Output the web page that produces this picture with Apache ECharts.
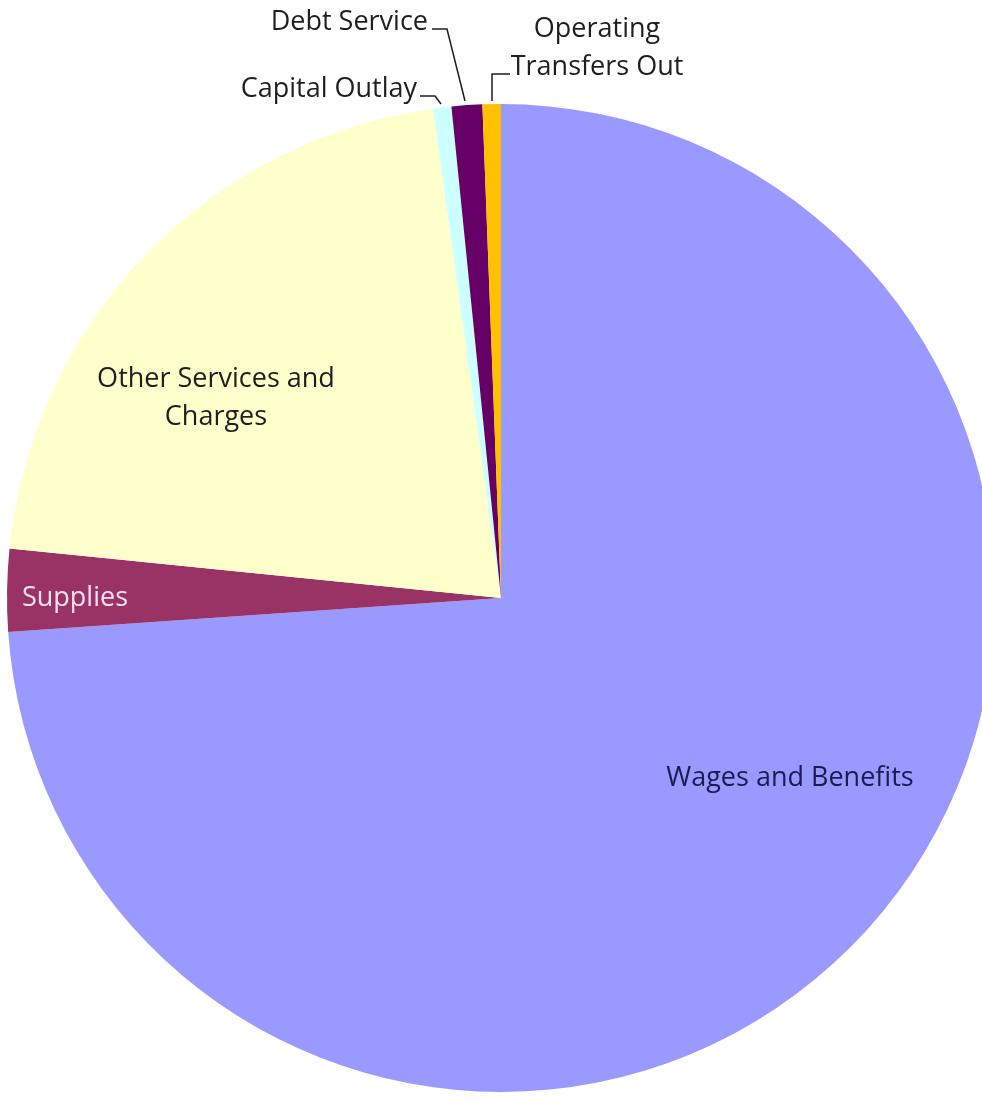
<!DOCTYPE html>
<html>
<head>
<meta charset="utf-8">
<script src="https://cdn.jsdelivr.net/npm/echarts@6/dist/echarts.min.js"></script>
<style>html,body{margin:0;padding:0;background:#fff}#c{width:982px;height:1102px}</style>
</head>
<body>
<div id="c"></div>
<script>
const categories = ['Wages and Benefits', 'Supplies', 'Other Services and\nCharges', 'Capital Outlay', 'Debt Service', 'Operating\nTransfers Out'];
const values = [73.9, 2.7, 21.2, 0.6, 1.0, 0.6];
const colors = ['#9999FF', '#993366', '#FFFFCC', '#CCFFFF', '#660066', '#FFC000'];
const labelColors = ['#1b1b50', '#f7e1ec', '#1e1e1e', '#1e1e1e', '#1e1e1e', '#1e1e1e'];

// label placement (layout only)
const labelLayouts = [
  {x: 790, y: 778, align: 'center'},
  {x: 75, y: 598, align: 'center'},
  {x: 216, y: 398, align: 'center'},
  {x: 417, y: 89, align: 'right', line: [[441, 104], [435, 96], [420, 96]]},
  {x: 428, y: 22, align: 'right', line: [[465, 101], [447, 29], [432, 29]]},
  {x: 597, y: 48, align: 'center', line: [[492, 101], [492, 74], [510, 74]]}
];

const chart = echarts.init(document.getElementById('c'), null, {renderer: 'canvas'});
chart.setOption({
  backgroundColor: '#ffffff',
  animation: false,
  series: [{
    type: 'pie',
    center: [501, 598],
    radius: 494,
    startAngle: 90,
    clockwise: true,
    avoidLabelOverlap: false,
    data: categories.map((name, i) => ({
      name: name,
      value: values[i],
      itemStyle: {color: colors[i]},
      label: {color: labelColors[i]},
      labelLine: {show: !!labelLayouts[i].line}
    })),
    label: {
      show: true,
      position: 'outside',
      formatter: '{b}',
      fontFamily: '"Open Sans", "Noto Sans", sans-serif',
      fontSize: 27,
      lineHeight: 38
    },
    labelLine: {
      show: true,
      lineStyle: {color: '#1e1e1e', width: 1.5}
    },
    labelLayout: function (params) {
      const l = labelLayouts[params.dataIndex];
      const r = {x: l.x, y: l.y, align: l.align, verticalAlign: 'middle'};
      if (l.line) r.labelLinePoints = l.line;
      return r;
    },
    emphasis: {disabled: true}
  }]
});
</script>
</body>
</html>
